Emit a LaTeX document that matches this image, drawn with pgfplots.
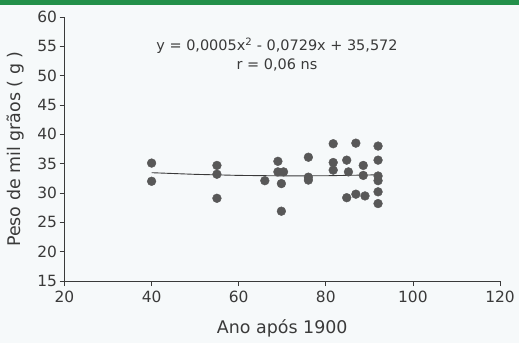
\documentclass[border=0pt]{standalone}
\usepackage{pgfplots}
\pgfplotsset{compat=1.18}
\usepackage{fontspec}
\setmainfont{DejaVu Sans}
\definecolor{bg}{HTML}{F6F9FA}
\definecolor{topgreen}{HTML}{23904A}
\definecolor{axc}{HTML}{3A3A3A}
\definecolor{dotc}{HTML}{585858}
\begin{document}
\begin{tikzpicture}
\fill[bg] (0,0) rectangle (519bp,343bp);
\fill[topgreen] (0,337.5bp) rectangle (519bp,343bp);
\begin{axis}[
  at={(64.5bp,62bp)}, anchor=south west,
  scale only axis, width=435.5bp, height=264bp,
  xmin=20, xmax=120, ymin=15, ymax=60,
  xtick={20,40,...,120}, ytick={15,20,...,60},
  axis x line=bottom, axis y line=left,
  axis line style={axc, line width=0.9pt, -},
  tick style={axc, line width=0.8pt},
  tick align=outside, major tick length=5bp,
  ticklabel style={font=\fontsize{15.5}{17}\selectfont, text=axc},
  xticklabel style={yshift=-2bp},
  yticklabel style={xshift=1bp},
  /pgf/number format/assume math mode=true,
  xlabel={Ano após 1900}, ylabel={Peso de mil grãos ( g )},
  label style={font=\fontsize{17.5}{19}\selectfont, text=axc},
  xlabel style={yshift=-10bp},
  ylabel style={yshift=6bp},
  clip=false,
]
\addplot[only marks, mark=*, mark size=4.4bp, mark options={fill=dotc, draw=dotc}] coordinates {
(40,35.1) (40,32.0)
(55,34.7) (55,33.2) (55,29.1)
(66,32.1)
(69,35.4) (69,33.6) (69.8,31.6) (69.8,26.9) (70.3,33.6)
(76,36.1) (76,32.2) (76,32.7)
(81.7,38.4) (81.7,35.2) (81.7,33.9)
(84.8,35.6) (85.2,33.6) (84.8,29.2)
(86.9,38.5) (86.9,29.8)
(88.6,34.7) (88.6,33.0) (89,29.5)
(92,38.0) (92,35.6) (92,32.9) (92,32.1) (92,30.2) (92,28.2)
};
\addplot[axc, line width=0.9pt] coordinates {
(40,33.46) (50,33.18) (60,33.00) (70,32.92) (80,32.94) (92,33.10)
};
\node[font=\fontsize{14.5}{16}\selectfont, text=axc, align=center] at (axis cs:68.8,53.6)
  {y = 0,0005x\textsuperscript{2} - 0,0729x + 35,572\\[3pt] r = 0,06 ns};
\end{axis}
\end{tikzpicture}
\end{document}
